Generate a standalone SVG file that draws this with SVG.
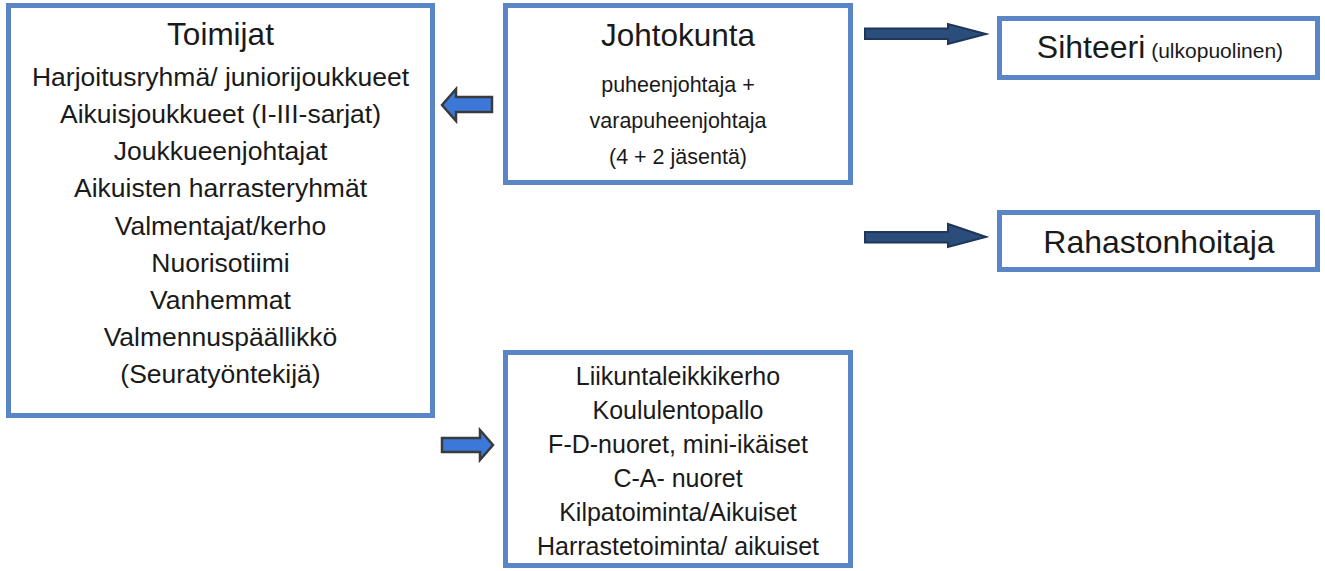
<svg xmlns="http://www.w3.org/2000/svg" width="1325" height="571" viewBox="0 0 1325 571">
<style>
.box{fill:#fff;stroke:#5a86c5;stroke-width:5}
text{font-family:"Liberation Sans",Arial,sans-serif;fill:#1a1a1a;text-anchor:middle}
.t{font-size:31.5px}
.l{font-size:26.5px}
.s{font-size:21.5px}
.b{font-size:25px}
.big{font-size:32px}
.blue{fill:#3c78d8;stroke:#3a3a3a;stroke-width:2.5;stroke-linejoin:miter}
.navy{fill:#2a4d7c;stroke:#1e3658;stroke-width:2;stroke-linejoin:miter}
</style>
<rect width="1325" height="571" fill="#fff"/>
<g id="toimijat">
<rect class="box" x="8.5" y="5.5" width="424" height="410"/>
<text class="t" x="220.5" y="45">Toimijat</text>
<text class="l" x="220.5" y="86">Harjoitusryhmä/ juniorijoukkueet</text>
<text class="l" x="220.5" y="123">Aikuisjoukkueet (I-III-sarjat)</text>
<text class="l" x="220.5" y="160">Joukkueenjohtajat</text>
<text class="l" x="220.5" y="197">Aikuisten harrasteryhmät</text>
<text class="l" x="220.5" y="235">Valmentajat/kerho</text>
<text class="l" x="220.5" y="272">Nuorisotiimi</text>
<text class="l" x="220.5" y="309">Vanhemmat</text>
<text class="l" x="220.5" y="346">Valmennuspäällikkö</text>
<text class="l" x="220.5" y="383">(Seuratyöntekijä)</text>
</g>
<g id="johtokunta">
<rect class="box" x="505.5" y="5.5" width="345" height="177"/>
<text class="t" x="678" y="46">Johtokunta</text>
<text class="s" x="678" y="92">puheenjohtaja +</text>
<text class="s" x="678" y="128">varapuheenjohtaja</text>
<text class="s" x="678" y="164">(4 + 2 jäsentä)</text>
</g>
<g id="sihteeri">
<rect class="box" x="999.5" y="18.5" width="318" height="59"/>
<text x="1160" y="58"><tspan class="big">Sihteeri</tspan><tspan font-size="21px"> (ulkopuolinen)</tspan></text>
</g>
<g id="rahastonhoitaja">
<rect class="box" x="999.5" y="212.5" width="318" height="57"/>
<text class="big" x="1159" y="253">Rahastonhoitaja</text>
</g>
<g id="toiminnot">
<rect class="box" x="505.5" y="352.5" width="345" height="213"/>
<text class="b" x="678" y="385">Liikuntaleikkikerho</text>
<text class="b" x="678" y="419">Koululentopallo</text>
<text class="b" x="678" y="453">F-D-nuoret, mini-ikäiset</text>
<text class="b" x="678" y="487">C-A- nuoret</text>
<text class="b" x="678" y="521">Kilpatoiminta/Aikuiset</text>
<text class="b" x="678" y="555">Harrastetoiminta/ aikuiset</text>
</g>
<g id="connectors">
<polygon class="blue" points="442,105 456,89 456,97 492,97 492,112 456,112 456,121"/>
<polygon class="blue" points="442,438 480,438 480,430 493,445 480,460 480,452 442,452"/>
<polygon class="navy" points="865,28.5 948,28.5 948,24 986,34 948,44 948,39 865,39"/>
<polygon class="navy" points="865,232 948,232 948,224 986,237 948,247 948,242.5 865,242.5"/>
</g>
</svg>
